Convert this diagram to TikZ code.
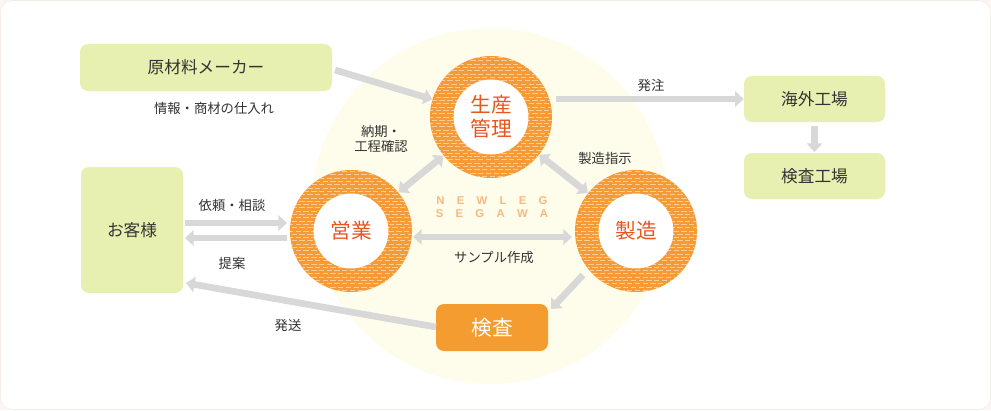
\documentclass[tikz,border=0pt]{standalone}
\usepackage{fontspec}
\setmainfont{Noto Sans CJK JP}
\newfontfamily\logofont{Liberation Sans}
\usetikzlibrary{arrows.meta,calc}
\definecolor{pagebg}{HTML}{FBF6F1}
\definecolor{pageline}{HTML}{F1ECE6}
\definecolor{boxgreen}{HTML}{E7F0B1}
\definecolor{ringorange}{HTML}{F59A35}
\definecolor{ringdash}{HTML}{FCCD98}
\definecolor{ringtext}{HTML}{E8561F}
\definecolor{kensaorange}{HTML}{F59C31}
\definecolor{arrgray}{HTML}{D8D8D8}
\definecolor{bigcircle}{HTML}{FEFCEA}
\definecolor{txt}{HTML}{333333}
\definecolor{logo}{HTML}{F8B980}
\newcommand\ringpattern[1]{%
  \fill[ringorange] (#1) circle[radius=45.75pt];
  \begin{scope}
    \clip (#1) circle[radius=45.75pt];
    \foreach \i in {-19,...,19} {
      \pgfmathtruncatemacro\ph{mod(\i+20,2)*3}
      \draw[ringdash, line width=0.7pt, dash pattern=on 4pt off 1.8pt, dash phase=\ph pt]
        ($(#1)+(-63,\i*3.3)$) -- ++(126,0);
    }
  \end{scope}
  \fill[white] (#1) circle[radius=28.1pt];
}
\begin{document}
\begin{tikzpicture}[x=0.75pt,y=-0.75pt,
  greenbox/.style={fill=boxgreen, rounded corners=6pt, text=txt, font=\fontsize{12.5pt}{15pt}\selectfont, inner sep=0pt},
  ringnode/.style={circle, minimum size=91.5pt, inner sep=0pt, text=ringtext, font=\fontsize{15.5pt}{20pt}\selectfont, align=center},
  lbl/.style={text=txt, font=\fontsize{10pt}{12pt}\selectfont, inner sep=0pt, align=center},
  arr/.style={draw=arrgray, line width=5pt, -{Triangle[width=11.5pt,length=6.5pt]}},
  darr/.style={draw=arrgray, line width=5pt, {Triangle[width=11.5pt,length=6.5pt]}-{Triangle[width=11.5pt,length=6.5pt]}},
  logotxt/.style={text=logo, font=\logofont\bfseries\fontsize{8.5pt}{9pt}\selectfont, inner sep=0pt}
]
\useasboundingbox (0,0) rectangle (991,410);
\fill[pagebg] (0,0) rectangle (991,410);
\filldraw[fill=white, draw=pageline, rounded corners=9pt] (0.5,0.5) rectangle (990.5,409.5);
\fill[bigcircle] (490,206) circle[radius=133.5pt];

% rings
\coordinate (cSeisan) at (491,117);
\coordinate (cEigyo) at (351,231);
\coordinate (cSeizo) at (636,231);
\ringpattern{cSeisan}
\ringpattern{cEigyo}
\ringpattern{cSeizo}
\node[ringnode] (seisan) at (cSeisan) {生産\\[-2pt]管理};
\node[ringnode] (eigyo) at (cEigyo) {営業};
\node[ringnode] (seizo) at (cSeizo) {製造};

% boxes
\node[greenbox, minimum width=189pt, minimum height=35.25pt] (genzai) at (206,67.5) {原材料メーカー};
\node[greenbox, minimum width=76.5pt, minimum height=94.5pt] (okyaku) at (132,230) {お客様};
\node[greenbox, minimum width=105.75pt, minimum height=34.5pt] (kaigai) at (814.5,99) {海外工場};
\node[greenbox, minimum width=105.75pt, minimum height=34.5pt] (kensakojo) at (814.5,176) {検査工場};
\node[fill=kensaorange, rounded corners=6pt, minimum width=84pt, minimum height=35.25pt, text=white, font=\fontsize{15.5pt}{18pt}\selectfont, inner sep=0pt] (kensa) at (492,327.5) {検査};

% logo
\node[logotxt] (logo1) at (492,201) {N\hspace{9.2pt}E\hspace{9.2pt}W\hspace{9.2pt}L\hspace{9.2pt}E\hspace{9.2pt}G};
\node[logotxt] (logo2) at (492,213.5) {S\hspace{9.2pt}E\hspace{9.2pt}G\hspace{9.2pt}A\hspace{9.2pt}W\hspace{9.2pt}A};

% labels
\node[lbl] (lShiire) at (214,108) {情報・商材の仕入れ};
\node[lbl] (lNouki) at (381,139) {納期・\\[-1pt]工程確認};
\node[lbl] (lHatchu) at (651,85) {発注};
\node[lbl] (lShiji) at (605,158) {製造指示};
\node[lbl] (lIrai) at (232,205) {依頼・相談};
\node[lbl] (lTeian) at (232,263) {提案};
\node[lbl] (lSample) at (494,257) {サンプル作成};
\node[lbl] (lHasso) at (288,325) {発送};

% connector endpoints
\coordinate (pGenzai) at (335,70);
\coordinate (pSeisanOut) at (556,99);
\coordinate (pEigyoL1) at (287,223);
\coordinate (pOkyakuR1) at (185,223);
\coordinate (pEigyoL2) at (287,238);
\coordinate (pOkyakuR2) at (185,238);
\coordinate (pEigyoR) at (413,237);
\coordinate (pSeizoL) at (572,237);
\coordinate (pSeizoOut) at (583,275);
\coordinate (pKensaIn) at (551,309);
\coordinate (pKensaOut) at (436,327);
\coordinate (pOkyakuIn) at (186,283);

% connectors
\draw[arr] (pGenzai) -- (seisan);
\draw[arr] (pSeisanOut) -- (kaigai.west);
\draw[arr] ([yshift=-3pt]kaigai.south) -- ([yshift=0.5pt]kensakojo.north);
\draw[darr] (seisan) -- (eigyo);
\draw[darr] (seisan) -- (seizo);
\draw[darr] (pEigyoR) -- (pSeizoL);
\draw[arr] (pOkyakuR1) -- (pEigyoL1);
\draw[arr] (pEigyoL2) -- (pOkyakuR2);
\draw[arr] (pKensaOut) -- (pOkyakuIn);
\draw[arr] (pSeizoOut) -- (pKensaIn);
\end{tikzpicture}
\end{document}
